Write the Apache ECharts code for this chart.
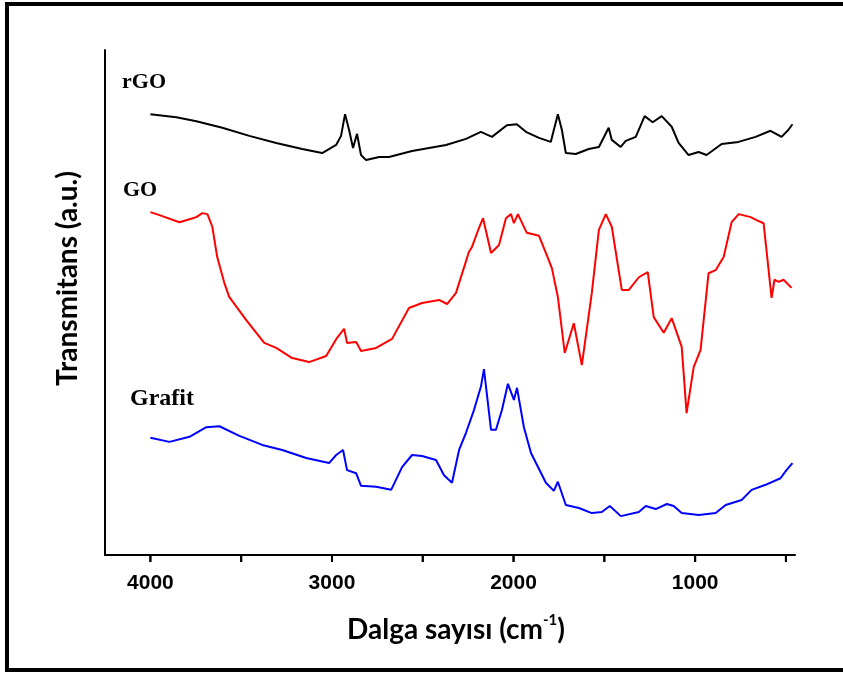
<!DOCTYPE html>
<html>
<head>
<meta charset="utf-8">
<title>FTIR</title>
<script src="https://cdn.jsdelivr.net/npm/echarts@6/dist/echarts.min.js"></script>
<style>
html, body { margin: 0; padding: 0; background: #fff; }
#chart { width: 843px; height: 673px; }
</style>
</head>
<body>
<div id="chart"></div>
<script>
// wavenumber (cm-1) and transmittance (a.u., 0-100 over plot height)
var rgoWn = [4000, 3857, 3747, 3604, 3455, 3307, 3164, 3054, 2977, 2950, 2928, 2906, 2884, 2862, 2840, 2812, 2740, 2686, 2559, 2372, 2262, 2180, 2119, 2037, 1982, 1932, 1860, 1795, 1756, 1734, 1712, 1657, 1586, 1530, 1476, 1459, 1410, 1382, 1327, 1278, 1234, 1184, 1129, 1091, 1036, 981, 937, 854, 761, 667, 585, 524, 486, 464];
var rgoT  = [87.3, 86.7, 85.9, 84.6, 83.0, 81.6, 80.4, 79.6, 81.2, 83.0, 87.3, 84.2, 80.6, 83.4, 79.2, 78.2, 78.8, 78.8, 80.0, 81.2, 82.4, 83.8, 82.8, 85.1, 85.3, 83.8, 82.6, 81.8, 87.3, 84.2, 79.6, 79.4, 80.4, 80.8, 84.6, 82.2, 80.8, 82.0, 82.8, 86.9, 85.7, 86.9, 84.8, 81.6, 79.2, 79.8, 79.2, 81.4, 81.8, 82.8, 84.0, 82.8, 84.2, 85.3];

var goWn = [4000, 3950, 3840, 3785, 3747, 3714, 3686, 3659, 3632, 3593, 3566, 3472, 3373, 3307, 3219, 3126, 3032, 2972, 2933, 2917, 2867, 2840, 2757, 2669, 2576, 2504, 2410, 2366, 2317, 2246, 2229, 2190, 2168, 2124, 2080, 2042, 2014, 1998, 1976, 1927, 1860, 1817, 1789, 1756, 1718, 1668, 1624, 1569, 1530, 1492, 1459, 1404, 1365, 1310, 1261, 1228, 1173, 1129, 1074, 1047, 1008, 970, 926, 887, 843, 799, 760, 694, 662, 623, 579, 563, 540, 513, 469];
var goT  = [67.9, 67.3, 65.9, 66.5, 66.9, 67.7, 67.5, 65.0, 59.0, 53.9, 51.1, 46.5, 42.0, 41.0, 39.0, 38.2, 39.4, 43.0, 44.8, 42.0, 42.2, 40.4, 41.0, 42.8, 48.9, 49.9, 50.5, 49.7, 51.9, 60.0, 61.0, 64.8, 66.7, 59.8, 61.4, 66.7, 67.5, 65.7, 67.5, 63.8, 63.2, 59.4, 56.8, 51.1, 40.0, 45.9, 37.6, 51.9, 64.4, 67.5, 65.0, 52.5, 52.5, 55.0, 56.0, 47.1, 44.0, 46.9, 41.2, 28.1, 37.2, 40.6, 55.8, 56.4, 59.0, 65.9, 67.5, 66.9, 66.3, 65.7, 50.9, 54.5, 54.1, 54.5, 52.9];

var grafitWn = [4000, 3895, 3785, 3692, 3620, 3510, 3384, 3274, 3142, 3016, 2977, 2939, 2917, 2867, 2840, 2757, 2674, 2614, 2559, 2504, 2427, 2383, 2339, 2300, 2262, 2218, 2180, 2163, 2124, 2097, 2064, 2031, 1998, 1981, 1943, 1904, 1822, 1778, 1756, 1712, 1640, 1569, 1514, 1470, 1409, 1310, 1272, 1217, 1156, 1118, 1074, 980, 887, 832, 744, 689, 612, 530, 497, 464];
var grafitT  = [23.2, 22.4, 23.4, 25.3, 25.5, 23.6, 21.8, 20.8, 19.2, 18.2, 19.8, 20.8, 16.8, 16.2, 13.7, 13.5, 12.9, 17.4, 19.8, 19.6, 18.8, 15.8, 14.3, 20.8, 24.2, 28.7, 33.3, 36.8, 24.8, 24.8, 28.7, 33.9, 30.7, 33.1, 25.3, 20.2, 14.3, 12.7, 14.5, 9.9, 9.3, 8.3, 8.5, 9.7, 7.7, 8.5, 9.7, 9.1, 10.1, 9.7, 8.3, 7.9, 8.3, 9.9, 10.9, 12.9, 13.9, 15.2, 16.8, 18.2];

var tickValues = [500, 1000, 1500, 2000, 2500, 3000, 3500, 4000];
var labelValues = [1000, 2000, 3000, 4000];

function pairs(xs, ys) {
	var out = [];
	for (var i = 0; i < xs.length; i++) {
		out.push([xs[i], ys[i]]);
	}
	return out;
}

var myChart = echarts.init(document.getElementById('chart'));

var lineSeries = function (name, color, data) {
	return {
		name: name,
		type: 'line',
		showSymbol: false,
		smooth: false,
		lineStyle: { color: color, width: 2 },
		data: data
	};
};

var baseGraphic = [
	{ type: 'rect', shape: { x: 7, y: 4, width: 900, height: 666 }, style: { fill: 'none', stroke: '#000', lineWidth: 4 } },
	{ type: 'text', left: 122, top: 71, style: { text: 'rGO', font: 'bold 22px "Liberation Serif"', fill: '#000' } },
	{ type: 'text', left: 123, top: 179, style: { text: 'GO', font: 'bold 22px "Liberation Serif"', fill: '#000' } },
	{ type: 'text', left: 130, top: 387, style: { text: 'Grafit', font: 'bold 24px "Liberation Serif"', fill: '#000' } }
];

var option = {
	grid: {
		left: 105,
		right: 48,
		top: 50,
		bottom: 118
	},
	xAxis: {
		type: 'value',
		inverse: true,
		min: 450,
		max: 4250,
		splitNumber: 4,
		name: '{a|Dalga sayısı (cm}{b|-1}{a|)}',
		nameLocation: 'middle',
		nameGap: 58,
		nameTextStyle: {
			padding: [0, 0, 0, 12],
			rich: {
				a: { fontFamily: 'Lato', fontWeight: 'bold', fontSize: 28, color: '#000', lineHeight: 34 },
				b: { fontFamily: 'Lato', fontWeight: 'bold', fontSize: 15, color: '#000', verticalAlign: 'top', lineHeight: 34 }
			}
		},
		axisLine: { show: true, lineStyle: { color: '#000', width: 2 } },
		axisTick: { show: false },
		axisLabel: {
			margin: 18,
			showMinLabel: false,
			showMaxLabel: false,
			formatter: function (v) { return labelValues.indexOf(v) >= 0 ? String(v) : ''; },
			fontFamily: 'Liberation Sans',
			fontWeight: 'bold',
			fontSize: 21,
			color: '#000'
		},
		splitLine: { show: false }
	},
	yAxis: {
		type: 'value',
		min: 0,
		max: 100,
		name: 'Transmitans (a.u.)',
		nameLocation: 'middle',
		nameGap: 23,
		nameTextStyle: { fontFamily: 'Lato', fontWeight: 'bold', fontSize: 28, color: '#000', padding: [0, 0, 0, 48] },
		axisLine: { show: true, lineStyle: { color: '#000', width: 2 } },
		axisTick: { show: false },
		axisLabel: { show: false },
		splitLine: { show: false }
	},
	graphic: baseGraphic,
	series: [
		lineSeries('rGO', '#000000', pairs(rgoWn, rgoT)),
		lineSeries('GO', '#ff0000', pairs(goWn, goT)),
		lineSeries('Grafit', '#0000ff', pairs(grafitWn, grafitT)),
		{
			// x-axis tick marks every 500 cm-1, placed through the axis scale
			type: 'custom',
			clip: false,
			z: 10,
			data: tickValues.map(function (v) { return [v, 0]; }),
			renderItem: function (params, api) {
				var p = api.coord([api.value(0), 0]);
				return {
					type: 'line',
					shape: { x1: p[0], y1: p[1] - 1, x2: p[0], y2: p[1] + 7 },
					style: { stroke: '#000', lineWidth: 2 }
				};
			}
		}
	]
};

myChart.setOption(option);

// same tick marks again as graphic lines, positions taken from the x-axis scale
var tickGraphic = tickValues.map(function (v) {
	var p = myChart.convertToPixel({ xAxisIndex: 0, yAxisIndex: 0 }, [v, 0]);
	return {
		type: 'line',
		z: 100,
		shape: { x1: p[0], y1: p[1] - 1, x2: p[0], y2: p[1] + 7 },
		style: { stroke: '#000', lineWidth: 2 }
	};
});
myChart.setOption({ graphic: baseGraphic.concat(tickGraphic) });

window.addEventListener("resize", function () {
	myChart.resize();
});
</script>
</body>
</html>
